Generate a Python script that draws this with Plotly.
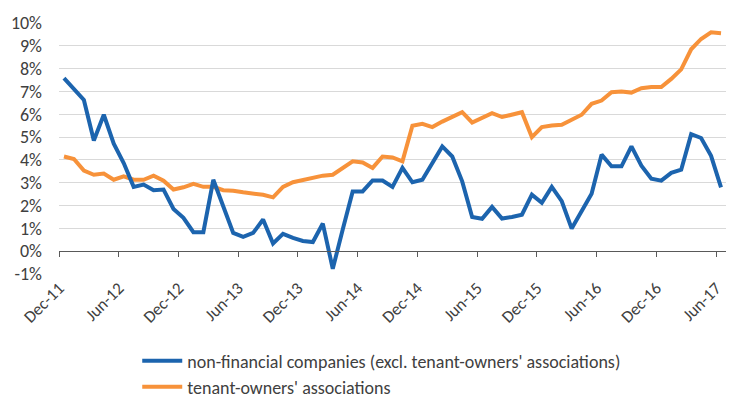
import plotly.graph_objects as go

# Monthly observations, Dec-11 .. Jun-17 (67 months), annual growth in %
months = [
    "Dec-11", "Jan-12", "Feb-12", "Mar-12", "Apr-12", "May-12", "Jun-12", "Jul-12", "Aug-12", "Sep-12", "Oct-12", "Nov-12",
    "Dec-12", "Jan-13", "Feb-13", "Mar-13", "Apr-13", "May-13", "Jun-13", "Jul-13", "Aug-13", "Sep-13", "Oct-13", "Nov-13",
    "Dec-13", "Jan-14", "Feb-14", "Mar-14", "Apr-14", "May-14", "Jun-14", "Jul-14", "Aug-14", "Sep-14", "Oct-14", "Nov-14",
    "Dec-14", "Jan-15", "Feb-15", "Mar-15", "Apr-15", "May-15", "Jun-15", "Jul-15", "Aug-15", "Sep-15", "Oct-15", "Nov-15",
    "Dec-15", "Jan-16", "Feb-16", "Mar-16", "Apr-16", "May-16", "Jun-16", "Jul-16", "Aug-16", "Sep-16", "Oct-16", "Nov-16",
    "Dec-16", "Jan-17", "Feb-17", "Mar-17", "Apr-17", "May-17", "Jun-17",
]

non_financial = [
    7.58, 7.11, 6.63, 4.85, 5.98, 4.71, 3.86, 2.82, 2.92, 2.67, 2.70, 1.85,
    1.46, 0.83, 0.83, 3.13, 1.97, 0.80, 0.63, 0.80, 1.39, 0.34, 0.76, 0.58,
    0.45, 0.40, 1.21, -0.77, 0.95, 2.62, 2.62, 3.10, 3.10, 2.82, 3.65, 3.02,
    3.13, 3.86, 4.59, 4.15, 3.06, 1.50, 1.42, 1.94, 1.43, 1.50, 1.60, 2.48,
    2.12, 2.82, 2.19, 0.99, 1.75, 2.52, 4.23, 3.72, 3.72, 4.59, 3.75, 3.18,
    3.09, 3.43, 3.57, 5.13, 4.96, 4.18, 2.80,
]

tenant_owners = [
    4.15, 4.04, 3.53, 3.35, 3.40, 3.13, 3.28, 3.13, 3.13, 3.31, 3.09, 2.70,
    2.80, 2.95, 2.82, 2.82, 2.67, 2.65, 2.58, 2.52, 2.47, 2.36, 2.82, 3.02,
    3.13, 3.24, 3.31, 3.35, 3.65, 3.94, 3.89, 3.65, 4.15, 4.11, 3.94, 5.50,
    5.58, 5.44, 5.68, 5.88, 6.09, 5.64, 5.83, 6.05, 5.88, 5.98, 6.09, 5.00,
    5.44, 5.51, 5.54, 5.76, 5.98, 6.46, 6.60, 6.97, 7.00, 6.95, 7.14, 7.19,
    7.19, 7.55, 7.97, 8.85, 9.30, 9.59, 9.55,
]

y_ticks = list(range(-1, 11))
y_labels = [f"{v}%" for v in y_ticks]

BLUE = "#1c64ae"
ORANGE = "#f7923a"
TEXT = "#404040"
FONT = "Calibri, Carlito, 'Liberation Sans', Arial, sans-serif"

x = list(range(len(months)))
# ticks sit on the boundaries between months, a label every 6 months
tick_pos = [i - 0.5 for i in range(0, len(months), 6)]
tick_text = [months[i] for i in range(0, len(months), 6)]

fig = go.Figure()

fig.add_trace(go.Scatter(
    x=x, y=tenant_owners, mode="lines", name="tenant-owners' associations",
    line=dict(color=ORANGE, width=4), legend="legend2",
))
fig.add_trace(go.Scatter(
    x=x, y=non_financial, mode="lines",
    name="non-financial companies (excl. tenant-owners' associations)",
    line=dict(color=BLUE, width=4), legend="legend",
    xaxis="x2",
))

legend_style = dict(
    orientation="v", xref="container", yref="container",
    xanchor="left", yanchor="middle",
    font=dict(size=18, color=TEXT), bgcolor="rgba(0,0,0,0)", itemwidth=40,
)

# the page body adds an 8px margin all round, so the figure is 16px smaller than the window
fig.update_layout(
    width=718, height=392,
    margin=dict(l=51, r=0, t=15, b=126, autoexpand=False),
    plot_bgcolor="white", paper_bgcolor="white",
    font=dict(family=FONT, size=17, color=TEXT),
    xaxis=dict(
        range=[-0.5, len(months) - 0.5],
        tickmode="array", tickvals=tick_pos, ticktext=tick_text,
        tickangle=-45, showgrid=False, zeroline=False, showline=False,
        ticks="", tickfont=dict(size=17, color=TEXT),
    ),
    # second x axis carries the axis line and tick marks along 0%
    xaxis2=dict(
        overlaying="x", matches="x", anchor="free", position=1 / 11,
        tickmode="array", tickvals=tick_pos, showticklabels=False,
        showgrid=False, zeroline=False, showline=True,
        linecolor="#595959", linewidth=1.3,
        ticks="outside", ticklen=5, tickcolor="#595959", tickwidth=1.3,
    ),
    yaxis=dict(
        range=[-1, 10], tickmode="array", tickvals=y_ticks, ticktext=y_labels,
        showgrid=True, gridcolor="#d9d9d9", gridwidth=1.3,
        zeroline=False, showline=False, ticks="",
        tickfont=dict(size=18, color=TEXT), ticklabelstandoff=16,
    ),
    legend=dict(legend_style, x=0.18, y=1 - 353 / 392),
    legend2=dict(legend_style, x=0.18, y=1 - 379 / 392),
    showlegend=True,
)

fig.write_html("out.html")
